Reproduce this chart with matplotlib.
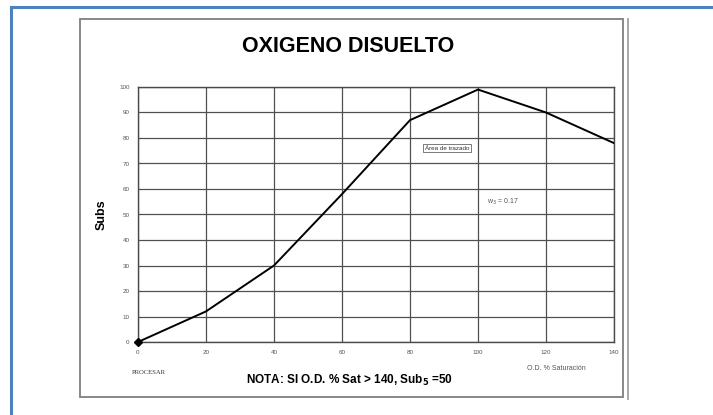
import matplotlib.pyplot as plt
from matplotlib.patches import Rectangle
from matplotlib.lines import Line2D

# data
od_sat = [0, 20, 40, 60, 80, 100, 120, 140]
sub_values = [0, 12, 30, 58, 87, 99, 90, 78]
x_ticks = [0, 20, 40, 60, 80, 100, 120, 140]
y_ticks = [0, 10, 20, 30, 40, 50, 60, 70, 80, 90, 100]

W, H = 713, 415
plt.rcParams['font.family'] = ['Liberation Sans', 'DejaVu Sans']

fig = plt.figure(figsize=(W / 100, H / 100), dpi=100)


def fx(px):
    return px / W


def fy(py):
    return 1 - py / H


# blue outer frame (top and left edges)
fig.add_artist(Line2D([fx(11), fx(713)], [fy(7), fy(7)], color='#4f81bd', lw=2.2))
fig.add_artist(Line2D([fx(11), fx(11)], [fy(7), fy(415)], color='#4f81bd', lw=2.2))

# chart area box with shadow line
fig.add_artist(Rectangle((fx(80), fy(397)), fx(623) - fx(80), fy(19) - fy(397),
                         fill=False, edgecolor='#7f7f7f', lw=1.3))
fig.add_artist(Line2D([fx(628), fx(628)], [fy(19), fy(399)], color='#a0a0a0', lw=1.3))

ax = fig.add_axes([fx(138), fy(342), fx(614) - fx(138), fy(87) - fy(342)])
ax.plot(od_sat, sub_values, color='black', lw=1.4, zorder=3)
ax.plot(od_sat[0], sub_values[0], marker='D', color='black', ms=4, zorder=4, clip_on=False)

ax.set_xlim(0, 140)
ax.set_ylim(0, 100)
ax.set_xticks(x_ticks)
ax.set_yticks(y_ticks)
ax.tick_params(labelsize=4.5, colors='#555555', length=0, pad=6)
ax.grid(True, color='#505050', lw=0.9)
for s in ax.spines.values():
    s.set_color('#4a4a4a')
    s.set_linewidth(1.0)

ax.set_ylabel('Subs', fontsize=9, fontweight='bold', labelpad=8)

fig.text(fx(348), fy(47), 'OXIGENO DISUELTO', fontsize=15.5, fontweight='bold',
         ha='center', va='center')

fig.text(fx(349), fy(380), r'NOTA: SI O.D. % Sat > 140, Sub$_\mathbf{5}$ =50', fontsize=8.5,
         fontweight='bold', ha='center', va='center')
fig.text(fx(132), fy(372), 'PROCESAR', fontsize=4.8, family=['Liberation Serif', 'DejaVu Serif'],
         color='#333333', ha='left', va='center')
fig.text(fx(556), fy(368), 'O.D. % Saturación', fontsize=5, color='#555555',
         ha='center', va='center')

fig.text(fx(447), fy(148), 'Área de trazado', fontsize=4.5, color='#333333', ha='center', va='center',
         bbox=dict(boxstyle='square,pad=0.3', fc='white', ec='#666666', lw=0.6))
fig.text(fx(503), fy(202), r'w$_3$ = 0.17', fontsize=5, color='#555555', ha='center', va='center')

fig.savefig('out.png', dpi=100)
